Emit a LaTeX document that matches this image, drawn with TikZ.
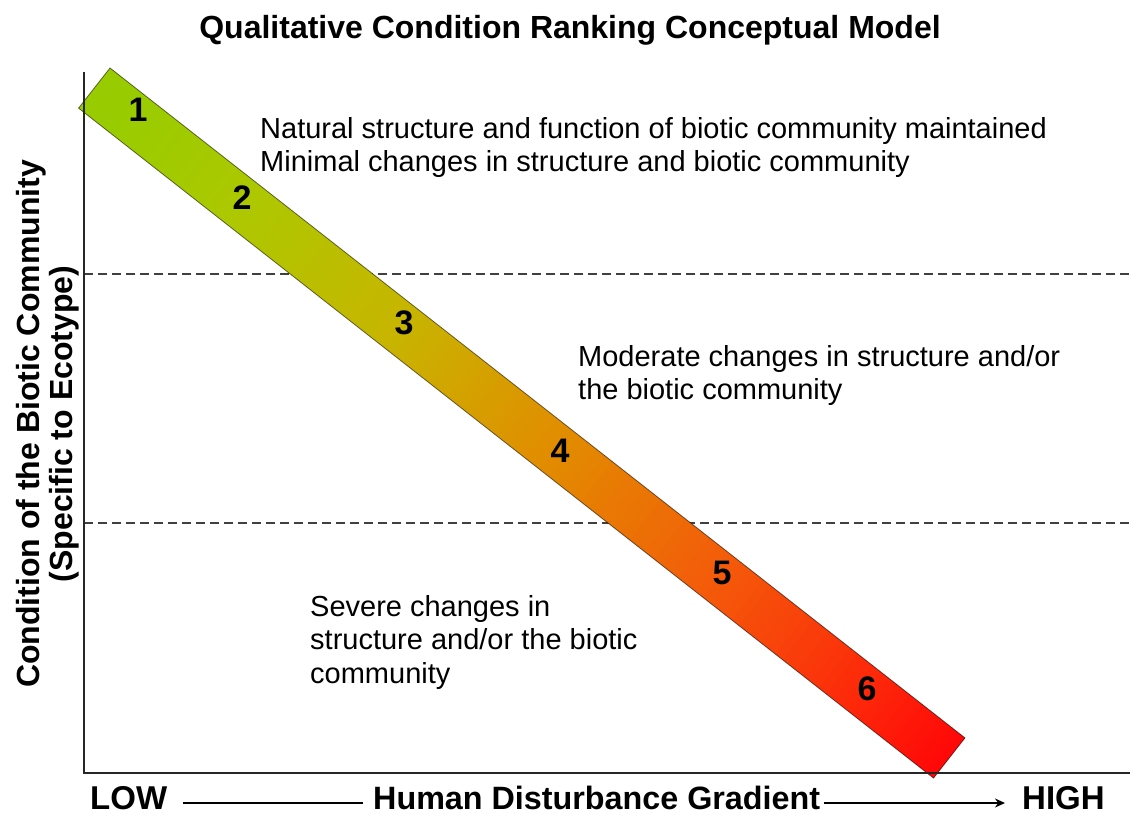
\documentclass[tikz,border=0pt]{standalone}
\usepackage{fontspec}
\setmainfont{Liberation Sans}
\usetikzlibrary{arrows.meta}
\definecolor{c0}{RGB}{153,204,0}
\definecolor{c1}{RGB}{172,200,0}
\definecolor{c2}{RGB}{200,180,0}
\definecolor{c3}{RGB}{226,140,0}
\definecolor{c4}{RGB}{244,90,10}
\definecolor{c5}{RGB}{253,40,10}
\definecolor{c6}{RGB}{255,8,8}
\newcommand{\bandseg}[4]{%
  \foreach \k in {0,...,19}{%
    \pgfmathtruncatemacro{\fr}{(\k+0.5)*5}%
    \pgfmathsetmacro{\xa}{(#1+(#2-#1)*\k/20)*1086.2}%
    \pgfmathsetmacro{\xb}{(#1+(#2-#1)*(\k+1)/20)*1086.2+0.8}%
    \fill[#4!\fr!#3] (\xa,0) rectangle (\xb,51);
  }}
\tikzset{
  axisline/.style={line width=2pt, black!85},
  guide/.style={line width=1.2pt, black!75, dash pattern=on 9pt off 5pt},
  titletext/.style={font=\fontsize{32}{38}\selectfont\bfseries, inner sep=0pt},
  bodytext/.style={font=\fontsize{29}{33.5}\selectfont, align=left, inner sep=0pt, anchor=north west},
  numtext/.style={font=\fontsize{34}{38}\selectfont\bfseries, inner sep=0pt},
  axistext/.style={font=\fontsize{33}{38}\selectfont\bfseries, inner sep=0pt},
  bandedge/.style={draw=black, draw opacity=0.55, line width=0.8pt}
}
\begin{document}
\begin{tikzpicture}[x=1pt,y=-1pt]
\useasboundingbox[fill=white] (0,0) rectangle (1130,819);
% title
\node[titletext, anchor=base] (title) at (570,38) {Qualitative Condition Ranking Conceptual Model};
% guide lines
\coordinate (g1a) at (84,274); \coordinate (g1b) at (1130,274);
\coordinate (g2a) at (84,523); \coordinate (g2b) at (1130,523);
\draw[guide] (g1a) -- (g1b);
\draw[guide] (g2a) -- (g2b);
% band
\begin{scope}[shift={(110,68)}, rotate=-38.08]
  \bandseg{0}{0.04}{c0}{c0}
  \bandseg{0.04}{0.17}{c0}{c1}
  \bandseg{0.17}{0.36}{c1}{c2}
  \bandseg{0.36}{0.54}{c2}{c3}
  \bandseg{0.54}{0.73}{c3}{c4}
  \bandseg{0.73}{0.90}{c4}{c5}
  \bandseg{0.90}{0.9993}{c5}{c6}
  \coordinate (bA) at (0,0);
  \coordinate (bD) at (1086.2,0);
  \coordinate (bC) at (1086.2,51);
  \coordinate (bB) at (0,51);
\end{scope}
\draw[bandedge] (bA) -- (bD) -- (bC) -- (bB) -- cycle;
% axes
\coordinate (ytop) at (84,72);
\coordinate (orig) at (84,773);
\coordinate (xend) at (1130,773);
\draw[axisline] (ytop) -- (orig) -- (xend);
% numbers
\node[numtext] (n1) at (138,110) {1};
\node[numtext] (n2) at (242,198) {2};
\node[numtext] (n3) at (404,323) {3};
\node[numtext] (n4) at (560,451) {4};
\node[numtext] (n5) at (722,573) {5};
\node[numtext] (n6) at (867,689) {6};
% texts
\node[bodytext] (nat) at (260,117) {Natural structure and function of biotic community maintained\\Minimal changes in structure and biotic community};
\node[bodytext] (mod) at (578,345) {Moderate changes in structure and/or\\the biotic community};
\node[bodytext] (sev) at (310,595) {Severe changes in\\structure and/or the biotic\\community};
% y label
\node[axistext, font=\fontsize{32}{33}\selectfont\bfseries, align=center, rotate=90] (ylab) at (48,424) {Condition of the Biotic Community\\(Specific to Ecotype)};
% x labels
\node[axistext, anchor=base west] (low) at (90,809) {LOW};
\node[axistext, font=\fontsize{32.3}{38}\selectfont\bfseries, anchor=base west] (hum) at (373,809) {Human Disturbance Gradient};
\node[axistext, anchor=base west] (high) at (1022,809) {HIGH};
\draw[line width=2pt] ([shift={(16,-6)}]low.base east) -- ([shift={(-10,-6)}]hum.base west);
\draw[line width=2pt, -{Stealth[length=10pt,width=9pt]}] ([shift={(4,-6)}]hum.base east) -- ([shift={(-17,-6)}]high.base west);
\end{tikzpicture}
\end{document}
